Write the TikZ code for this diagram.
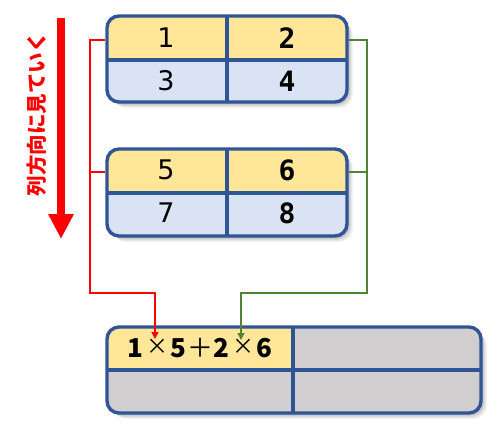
\documentclass[tikz,border=0pt]{standalone}
\usepackage{fontspec}
\setmainfont{DejaVu Sans}
\newfontfamily\cjk{Noto Sans CJK JP}
\newfontfamily\monob{DejaVu Sans Mono}
\usetikzlibrary{arrows.meta}
\definecolor{yel}{HTML}{FFE699}
\definecolor{blu}{HTML}{DAE3F3}
\definecolor{bord}{HTML}{2F5597}
\definecolor{gry}{HTML}{D0CECE}
\definecolor{grn}{HTML}{548235}
\definecolor{rd}{HTML}{FF0000}
\newcommand\shadowrect[4]{%
  \foreach \o/\a in {6/0.04,5/0.05,4/0.06,3/0.07,2/0.08}{%
    \fill[black,opacity=\a,rounded corners=13pt] (#1+\o,#2+\o) rectangle (#3+\o,#4+\o);}}
\newcommand\cb[1]{\makebox[21.5pt]{#1}}
\begin{document}
\begin{tikzpicture}[x=1pt,y=-1pt,
  mbox/.style={draw=bord, line width=3.4pt, rounded corners=12pt, inner sep=0pt, fill=none},
  divline/.style={draw=bord, line width=3.4pt},
  numl/.style={font=\fontsize{27}{29}\selectfont, inner sep=0pt},
  numr/.style={font=\monob\bfseries\fontsize{28}{30}\selectfont, inner sep=0pt},
  redline/.style={draw=rd, line width=1.3pt},
  grnline/.style={draw=grn, line width=1.3pt},
  tip/.style={-{Triangle[width=7pt,length=7pt]}}]
\useasboundingbox (0,0) rectangle (501,437);

% ---- Box A ----
\shadowrect{107}{16}{347}{102}
\begin{scope}
  \clip[rounded corners=12pt] (107,16) rectangle (347,102);
  \fill[yel] (107,16) rectangle (347,60);
  \fill[blu] (107,60) rectangle (347,102);
\end{scope}
\draw[divline] (107,60) -- (347,60);
\draw[divline] (227,16) -- (227,102);
\node[mbox, minimum width=240pt, minimum height=86pt] (A) at (227,59) {};
\node[numl] (a11) at (166,38) {1};
\node[numr] (a12) at (287,38) {2};
\node[numl] (a21) at (166,81) {3};
\node[numr] (a22) at (287,81) {4};

% ---- Box B ----
\shadowrect{107}{149}{347}{236}
\begin{scope}
  \clip[rounded corners=12pt] (107,149) rectangle (347,236);
  \fill[yel] (107,149) rectangle (347,193);
  \fill[blu] (107,193) rectangle (347,236);
\end{scope}
\draw[divline] (107,193) -- (347,193);
\draw[divline] (227,149) -- (227,236);
\node[mbox, minimum width=240pt, minimum height=87pt] (B) at (227,192.5) {};
\node[numl] (b11) at (166,170) {5};
\node[numr] (b12) at (287,170) {6};
\node[numl] (b21) at (166,213) {7};
\node[numr] (b22) at (287,213) {8};

% ---- Box C ----
\shadowrect{107}{327}{481}{413}
\begin{scope}
  \clip[rounded corners=12pt] (107,327) rectangle (481,413);
  \fill[gry] (107,327) rectangle (481,413);
  \fill[yel] (107,327) rectangle (293,370);
\end{scope}
\draw[divline] (107,370) -- (481,370);
\draw[divline] (293,327) -- (293,413);
\node[mbox, minimum width=374pt, minimum height=86pt] (C) at (294,370) {};
\node[inner sep=0pt, font=\cjk\fontsize{26}{28}\selectfont] (c11) at (200,348)
  {\cb{\bfseries 1}\cb{\raisebox{3pt}{\fontsize{22}{24}\selectfont ×}}\cb{\bfseries 5}\cb{＋}\cb{\bfseries 2}\cb{\raisebox{3pt}{\fontsize{22}{24}\selectfont ×}}\cb{\bfseries 6}};

% ---- connectors ----
\coordinate (rl) at (90,293);
\coordinate (rt) at (155,293);
\coordinate (rend) at (155,339);
\coordinate (gr) at (367,293);
\coordinate (gt) at (241,293);
\coordinate (gend) at (241,340);
\draw[redline, tip] (A.west |- 0,40) -| (rl) -- (rt) -- (rend);
\draw[redline] (B.west |- 0,172) -- (rl |- 0,172);
\draw[grnline, tip] (A.east |- 0,40) -| (gr) -- (gt) -- (gend);
\draw[grnline] (B.east |- 0,172) -- (gr |- 0,172);

% ---- big arrow and label ----
\coordinate (bs) at (61,18);
\coordinate (be) at (61,239);
\draw[rd, line width=8pt, -{Triangle[width=24pt,length=25pt]}] (bs) -- (be);
\node[rotate=90, text=rd, inner sep=0pt, font=\cjk\bfseries\fontsize{20.5}{22}\selectfont] (lbl) at (37,114) {列方向に見ていく};
\end{tikzpicture}
\end{document}
